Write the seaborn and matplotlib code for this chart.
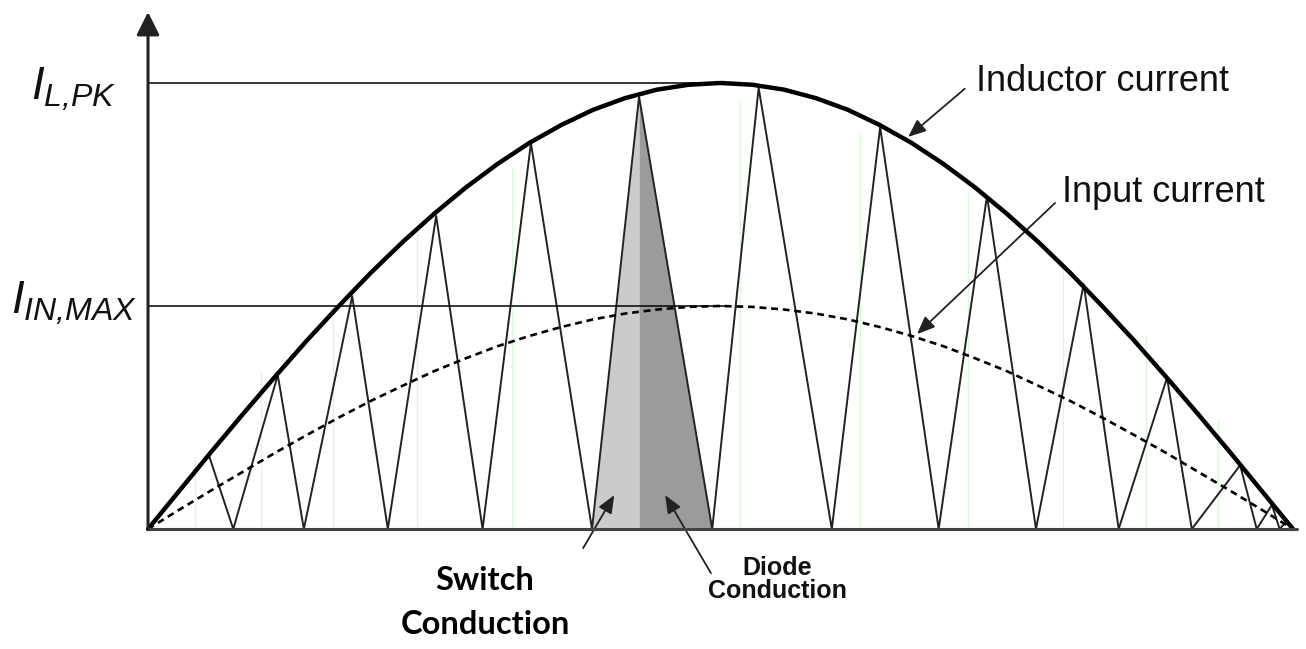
import numpy as np
import pandas as pd
import matplotlib
matplotlib.use('Agg')
import matplotlib.pyplot as plt
import seaborn as sns

# phase of the half line cycle (deg) and normalised current (I_L,PK = 1)
phase = list(range(0, 181, 5))
inductor_env = [0, .087, .174, .259, .342, .423, .5, .574, .643, .707, .766, .819, .866, .906, .940, .966, .985, .996,
                1.0,
                .996, .985, .966, .940, .906, .866, .819, .766, .707, .643, .574, .5, .423, .342, .259, .174, .087, 0]
input_current = [0, .044, .087, .129, .171, .211, .25, .287, .321, .354, .383, .410, .433, .453, .470, .483, .492, .498,
                 .5,
                 .498, .492, .483, .470, .453, .433, .410, .383, .354, .321, .287, .25, .211, .171, .129, .087, .044, 0]

# triangle ripple: zero crossings (valleys) and peaks touching the envelope
valley_deg = [0, 13.4, 24.5, 37.7, 52.6, 69.8, 88.7, 107.5, 124.3, 139.6, 152.6, 164.1, 174.3, 177.9, 180.0]
peak_deg = [9.6, 20.4, 32.1, 45.3, 60.2, 77.2, 96.0, 115.1, 131.9, 147.1, 160.2, 171.7, 176.7, 178.9]
peak_amp = [0.164, 0.345, 0.522, 0.702, 0.865, 0.969, 0.989, 0.901, 0.747, 0.549, 0.339, 0.143, 0.054, 0.016]

# faint green gate marks
green_deg = [7.4, 17.8, 29.1, 42.3, 57.2, 93.1, 111.9, 128.9, 143.8, 156.9, 168.2]
green_top = [0.161, 0.352, 0.475, 0.664, 0.812, 0.962, 0.890, 0.756, 0.587, 0.435, 0.244]

i_lpk = 1.0
i_inmax = 0.5
shade_cycle = 5  # index of the highlighted switching cycle

# build the ripple polyline
tri_x, tri_y = [], []
for k in range(len(peak_deg)):
    tri_x += [valley_deg[k], peak_deg[k]]
    tri_y += [0, peak_amp[k]]
tri_x.append(valley_deg[-1])
tri_y.append(0)

env_df = pd.DataFrame({'phase': phase, 'IL': inductor_env, 'IIN': input_current})
tri_df = pd.DataFrame({'phase': tri_x, 'I': tri_y})

sns.set_style('white')
plt.rcParams['font.family'] = ['Liberation Sans', 'DejaVu Sans']
plt.rcParams['mathtext.fontset'] = 'custom'
plt.rcParams['mathtext.it'] = 'Liberation Sans:italic'
plt.rcParams['mathtext.rm'] = 'Liberation Sans:italic'

fig = plt.figure(figsize=(13.06, 6.49), dpi=100)
ax = fig.add_axes([0, 0, 1, 1])
ax.set_xlim(-23.27, 182.05)
ax.set_ylim(-0.269, 1.186)
ax.axis('off')

ax.vlines(green_deg, 0, green_top, colors='#dcf7dc', lw=1, zorder=1)

# shaded switch / diode conduction
v0, pk, v1 = valley_deg[shade_cycle], peak_deg[shade_cycle], valley_deg[shade_cycle + 1]
a = peak_amp[shade_cycle]
ax.fill_between([v0, pk], [0, a], 0, color='#cbcbcb', lw=0, zorder=2)
ax.fill_between([pk, v1], [a, 0], 0, color='#9b9b9b', lw=0, zorder=2)

sns.lineplot(data=tri_df, x='phase', y='I', sort=False, estimator=None,
             color='#222222', lw=1.4, ax=ax, zorder=3)
sns.lineplot(data=env_df, x='phase', y='IIN', sort=False, estimator=None,
             color='black', lw=1.9, ax=ax, zorder=4,
             linestyle=(0, (2.6, 1.8)))
sns.lineplot(data=env_df, x='phase', y='IL', sort=False, estimator=None,
             color='black', lw=3.2, ax=ax, zorder=5)

# reference levels
ax.plot([0, 88.4], [i_lpk, i_lpk], color='black', lw=1.1, zorder=3)
ax.plot([0, 91.0], [i_inmax, i_inmax], color='black', lw=1.1, zorder=3)

# axes
ax.plot([0, 180.6], [0, 0], color='#444444', lw=2.2, zorder=6)
ax.annotate('', xy=(0, 1.159), xytext=(0, 0),
            arrowprops=dict(arrowstyle='-|>,head_length=0.7,head_width=0.35',
                            mutation_scale=20, color='#222222', lw=2.2,
                            shrinkA=0, shrinkB=0), zorder=6)

ax.set_xlabel('')
ax.set_ylabel('')

# level labels
ax.text(-4.87, 0.962, r'$I_{L{,}PK}$', fontsize=33, ha='right', va='baseline', color='#111111')
ax.text(-1.73, 0.484, r'$I_{IN{,}MAX}$', fontsize=33, ha='right', va='baseline', color='#111111')

# callouts
arr = dict(arrowstyle='-|>,head_length=0.6,head_width=0.25', mutation_scale=18,
           color='#222222', lw=1.3, shrinkA=0, shrinkB=0)
ax.text(130.2, 0.982, 'Inductor current', fontsize=26, ha='left', va='baseline', color='#111111')
ax.annotate('', xy=(119.5, 0.879), xytext=(128.4, 0.987), arrowprops=arr)
ax.text(143.7, 0.733, 'Input current', fontsize=26, ha='left', va='baseline', color='#111111')
ax.annotate('', xy=(120.9, 0.437), xytext=(142.6, 0.731), arrowprops=arr)

ax.annotate('', xy=(73.3, 0.076), xytext=(68.4, -0.043), arrowprops=arr)
ax.annotate('', xy=(81.3, 0.076), xytext=(88.5, -0.099), arrowprops=arr)

ax.text(98.9, -0.103, 'Diode', fontsize=18, fontweight='bold', ha='center', va='baseline', color='#111111')
ax.text(98.9, -0.155, 'Conduction', fontsize=18, fontweight='bold', ha='center', va='baseline', color='#111111')
ax.text(53.0, -0.137, 'Switch', fontsize=23.5, fontweight='bold', family=['Lato', 'DejaVu Sans'],
        ha='center', va='baseline', color='black')
ax.text(53.0, -0.235, 'Conduction', fontsize=23.5, fontweight='bold', family=['Lato', 'DejaVu Sans'],
        ha='center', va='baseline', color='black')

fig.savefig('out.png', dpi=100)
